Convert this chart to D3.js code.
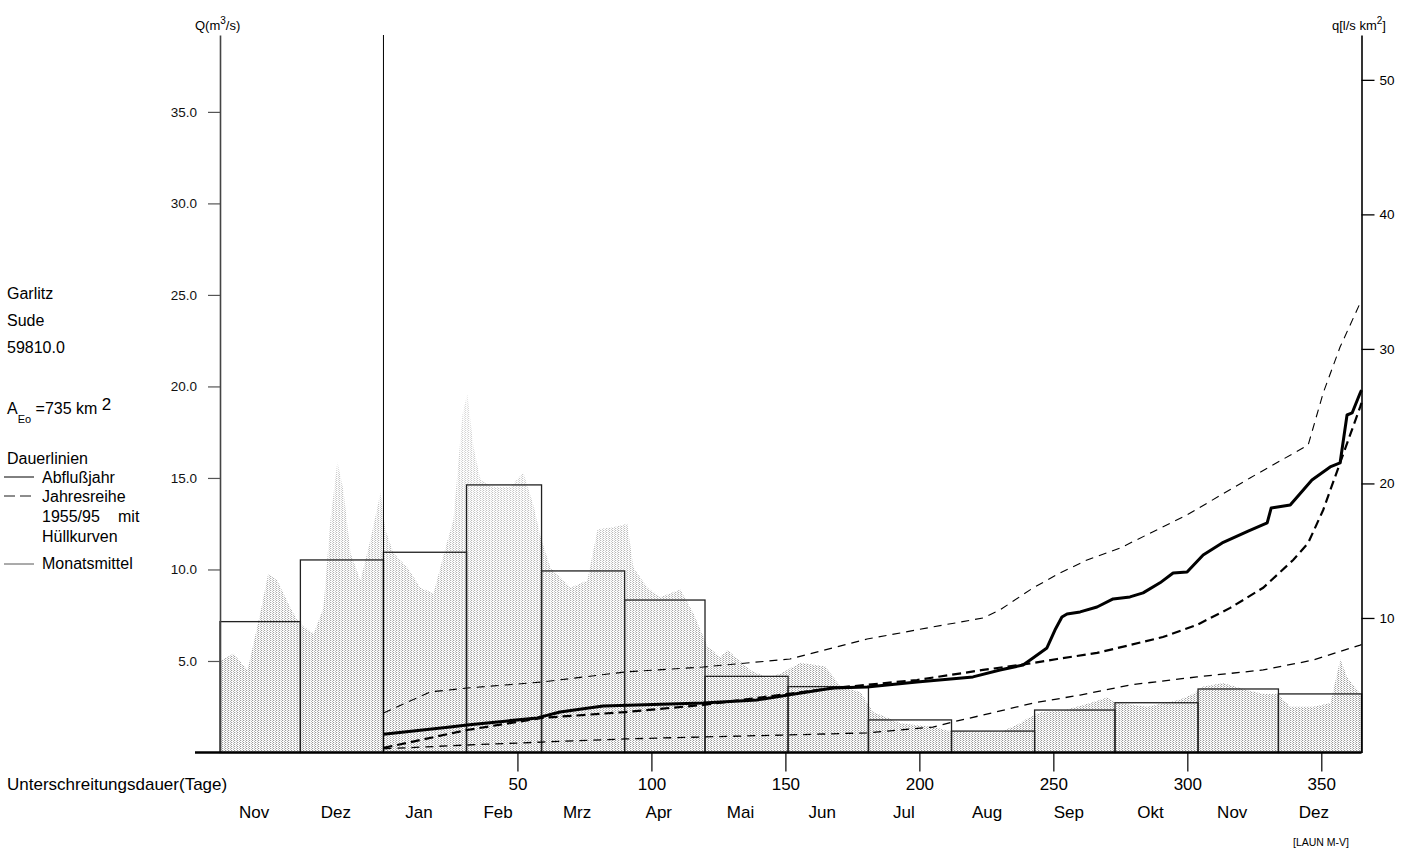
<!DOCTYPE html>
<html>
<head>
<meta charset="utf-8">
<script src="https://cdn.jsdelivr.net/npm/d3@7"></script>
<style>
  html, body { margin: 0; padding: 0; background: #fff; }
  svg { display: block; font-family: "Liberation Sans", Arial, sans-serif; }
</style>
</head>
<body>
<div id="chart"></div>
<script>
// Pegel Garlitz / Sude - Dauerlinien und Monatsmittel
const months = ["Nov", "Dez", "Jan", "Feb", "Mrz", "Apr", "Mai", "Jun", "Jul", "Aug", "Sep", "Okt", "Nov", "Dez"];
const monthDays = [30, 31, 31, 28, 31, 30, 31, 30, 31, 31, 30, 31, 30, 31];
const monthMean = [7.15, 10.52, 10.94, 14.62, 9.92, 8.33, 4.16, 3.6, 1.78, 1.17, 2.32, 2.72, 3.47, 3.2];

const qTicks = [5, 10, 15, 20, 25, 30, 35];
const qSpecTicks = [10, 20, 30, 40, 50];
const dayTicks = [50, 100, 150, 200, 250, 300, 350];

// Tageswerte (Ganglinie), Tag relativ zum 1. Jan
const hydroDay = [-61, -56, -50.7, -46, -43, -39.6, -34.7, -32, -30, -26, -22.4, -19.8, -17.2, -14.9, -12.3, -8.6, -4.9, -1.1,
  0.7, 3.7, 9, 13.8, 18.7, 23.9, 26.1, 29.5, 31.3, 33.6, 36.2, 41, 47.4, 52.2, 56, 58.6, 62.3, 69.8, 76.1, 79.9, 85.8,
  91, 93.3, 98.5, 103.4, 110.8, 115.7, 120.9, 125.7, 128.4, 136.9, 143.3, 148.1, 155.6, 164.9, 170.5, 178, 182.8,
  186.6, 192.9, 205.2, 210.4, 217.9, 230.2, 237.7, 239.6, 245.1, 253.7, 263.8, 270.1, 273.9, 285.1, 297.4, 302.2,
  306, 313.4, 322.4, 328.4, 333.6, 338.4, 347, 353.4, 357.1, 359.7, 364.6, 365];
const hydroQ = [5.0, 5.4, 4.5, 7.6, 9.8, 9.4, 7.9, 7.2, 6.9, 6.5, 7.9, 12.7, 15.9, 14.3, 10.9, 9.4, 11.6, 14.2,
  12.2, 10.9, 10.1, 9.0, 8.7, 11.6, 12.7, 18.5, 19.6, 16.7, 14.9, 14.5, 14.5, 15.3, 13.5, 11.8, 10.1, 9.0, 9.4, 12.2, 12.3,
  12.5, 10.1, 9.0, 8.5, 8.9, 7.6, 5.8, 5.2, 5.6, 4.5, 4.1, 4.3, 4.9, 4.7, 3.6, 3.3, 2.2,
  2.0, 1.6, 1.4, 1.2, 1.1, 1.1, 1.6, 1.8, 2.2, 2.3, 2.7, 3.0, 2.7, 2.5, 2.9, 3.2,
  3.6, 3.8, 3.4, 3.2, 3.2, 2.5, 2.5, 2.7, 5.1, 4.1, 3.2, 3.0];

// Dauerlinie Abflussjahr
const yearDay = [0, 24.9, 31.2, 57.4, 65.9, 82, 119.3, 139.4, 151, 167.8, 180.5, 199.1, 220, 230.1, 238.7, 242.4, 247.6,
  250.6, 253.2, 255.1, 260, 266.3, 272.3, 278.6, 283.5, 289.8, 294.7, 299.9, 305.9, 313, 322.7, 329.8, 331.3, 338.4,
  346.5, 353.3, 357, 359.6, 361.5, 364.5, 365];
const yearQ = [1.0, 1.39, 1.5, 1.89, 2.21, 2.54, 2.7, 2.87, 3.14, 3.52, 3.58, 3.85, 4.13, 4.51, 4.78, 5.16, 5.71,
  6.69, 7.4, 7.57, 7.68, 7.95, 8.39, 8.5, 8.72, 9.27, 9.81, 9.86, 10.79, 11.45, 12.1, 12.54, 13.36, 13.52,
  14.89, 15.6, 15.82, 18.44, 18.55, 19.64, 19.8];

// Jahresreihe 1955/95 (Mittel) mit Huellkurven
const meanDay = [0, 31.2, 59.2, 90.2, 119.3, 167.8, 199.1, 223.8, 242.4, 251.4, 266.3, 278.6, 290.9, 303.6, 316, 328.3,
  339.5, 345.1, 350.7, 357, 364.5, 365];
const meanQ = [0.25, 1.23, 1.89, 2.21, 2.6, 3.52, 3.96, 4.51, 4.89, 5.11, 5.44, 5.87, 6.31, 6.97, 7.9, 9.0,
  10.52, 11.45, 13.25, 15.82, 18.88, 19.1];
const lowDay = [0, 31.2, 59.2, 90.2, 119.3, 151, 180.5, 205, 212.5, 223.8, 242.4, 260, 278.6, 303.6, 328.3, 347, 364.5, 365];
const lowQ = [0.2, 0.41, 0.57, 0.74, 0.85, 0.96, 1.07, 1.39, 1.67, 2.05, 2.7, 3.14, 3.69, 4.13, 4.51, 5.05, 5.87, 5.9];
const highDay = [0, 17.4, 31.2, 59.2, 90.2, 119.3, 151.7, 180.5, 205, 223.8, 230.1, 242.4, 252.5, 262.6, 274.9, 299.9,
  323.4, 345.1, 350.7, 357, 364.5, 365];
const highQ = [2.16, 3.31, 3.52, 3.85, 4.4, 4.67, 5.11, 6.2, 6.86, 7.35, 7.79, 8.99, 9.81, 10.52, 11.17, 12.98,
  15.0, 16.8, 19.64, 22.15, 24.56, 24.7];

const areaKm2 = 735;

const width = 1407, height = 849;
const svg = d3.select("#chart").append("svg")
  .attr("width", width)
  .attr("height", height);

// Skalen
const x = d3.scaleLinear().domain([-61, 365]).range([220, 1361.5]);
const y = d3.scaleLinear().domain([0, 39.2]).range([752.5, 35]);
const yq = d3.scaleLinear().domain([0, 39.2 * 1000 / areaKm2]).range([752.5, 35]);

// Punktraster fuer die Ganglinie
const defs = svg.append("defs");
const pat = defs.append("pattern")
  .attr("id", "stipple")
  .attr("patternUnits", "userSpaceOnUse")
  .attr("width", 3).attr("height", 2);
pat.append("rect").attr("width", 3).attr("height", 2).attr("fill", "#fff");
pat.append("rect").attr("width", 1).attr("height", 1).attr("fill", "#9a9a9a");
pat.append("rect").attr("x", 2).attr("y", 1).attr("width", 1).attr("height", 1).attr("fill", "#b4b4b4");
pat.append("rect").attr("x", 1).attr("y", 0).attr("width", 1).attr("height", 1).attr("fill", "#e6e6e6");

const grad = defs.append("linearGradient")
  .attr("id", "fade")
  .attr("gradientUnits", "userSpaceOnUse")
  .attr("x1", 0).attr("x2", 0)
  .attr("y1", y(0)).attr("y2", y(20));
grad.append("stop").attr("offset", 0).attr("stop-color", "#fff");
grad.append("stop").attr("offset", 0.25).attr("stop-color", "#f4f4f4");
grad.append("stop").attr("offset", 1).attr("stop-color", "#555");
defs.append("mask")
  .attr("id", "fadeMask")
  .attr("maskUnits", "userSpaceOnUse")
  .attr("x", 0).attr("y", 0).attr("width", width).attr("height", height)
  .append("rect")
  .attr("width", width).attr("height", height)
  .attr("fill", "url(#fade)");

const hydro = hydroDay.map((d, i) => ({ day: d, q: hydroQ[i] }));
svg.append("path")
  .datum(hydro)
  .attr("fill", "url(#stipple)")
  .attr("mask", "url(#fadeMask)")
  .attr("d", d3.area().x(d => x(d.day)).y0(y(0)).y1(d => y(d.q)));

// Monatsmittel
let start = -61;
const bars = months.map((m, i) => {
  const b = { name: m, start: start, end: start + monthDays[i], q: monthMean[i] };
  start += monthDays[i];
  return b;
});

svg.append("g")
  .selectAll("rect")
  .data(bars)
  .join("rect")
  .attr("x", d => x(d.start))
  .attr("y", d => y(d.q))
  .attr("width", d => x(d.end) - x(d.start))
  .attr("height", d => y(0) - y(d.q))
  .attr("fill", "none")
  .attr("stroke", "#222")
  .attr("stroke-width", 1.3);

// Beginn der Dauerlinien
svg.append("line")
  .attr("x1", x(0)).attr("x2", x(0))
  .attr("y1", y.range()[1]).attr("y2", y(0))
  .attr("stroke", "#000").attr("stroke-width", 1);

// Dauerlinien
const line = d3.line().x(d => x(d[0])).y(d => y(d[1]));
const zip = (a, b) => a.map((v, i) => [v, b[i]]);

svg.append("path")
  .datum(zip(highDay, highQ))
  .attr("fill", "none").attr("stroke", "#000")
  .attr("stroke-width", 1.1).attr("stroke-dasharray", "8,6")
  .attr("d", line);
svg.append("path")
  .datum(zip(lowDay, lowQ))
  .attr("fill", "none").attr("stroke", "#000")
  .attr("stroke-width", 1.3).attr("stroke-dasharray", "8,6")
  .attr("d", line);
svg.append("path")
  .datum(zip(meanDay, meanQ))
  .attr("fill", "none").attr("stroke", "#000")
  .attr("stroke-width", 2.2).attr("stroke-dasharray", "9,5")
  .attr("d", line);
svg.append("path")
  .datum(zip(yearDay, yearQ))
  .attr("fill", "none").attr("stroke", "#000")
  .attr("stroke-width", 3).attr("stroke-linejoin", "round")
  .attr("d", line);

// Achsen
const leftAxis = svg.append("g")
  .attr("transform", `translate(${x(-61)},0)`)
  .call(d3.axisLeft(y).tickValues(qTicks).tickFormat(d3.format(".1f"))
    .tickSize(12).tickSizeOuter(0).tickPadding(11));
leftAxis.select(".domain").attr("stroke", "#444").attr("stroke-width", 1.6);
leftAxis.selectAll(".tick line").attr("stroke", "#555").attr("stroke-width", 1.2);
leftAxis.selectAll("text").attr("font-size", 13.5).attr("fill", "#111")
  .attr("font-family", "Liberation Sans, Arial, sans-serif");

const rightAxis = svg.append("g")
  .attr("transform", `translate(${x(365)},0)`)
  .call(d3.axisRight(yq).tickValues(qSpecTicks).tickSize(13).tickSizeOuter(0).tickPadding(5));
rightAxis.select(".domain").attr("stroke", "#000").attr("stroke-width", 1.6);
rightAxis.selectAll(".tick line").attr("stroke", "#000").attr("stroke-width", 1.3);
rightAxis.selectAll("text").attr("font-size", 13.5).attr("fill", "#000")
  .attr("font-family", "Liberation Sans, Arial, sans-serif");

const bottomAxis = svg.append("g")
  .attr("transform", `translate(0,${y(0)})`)
  .call(d3.axisBottom(x).tickValues(dayTicks).tickSize(19).tickPadding(6));
bottomAxis.select(".domain").remove();
bottomAxis.selectAll(".tick line").attr("stroke", "#000").attr("stroke-width", 1.2);
bottomAxis.selectAll("text").attr("font-size", 17).attr("fill", "#000")
  .attr("font-family", "Liberation Sans, Arial, sans-serif");

// Grundlinie
svg.append("line")
  .attr("x1", x(-61) - 25).attr("x2", x(365))
  .attr("y1", y(0)).attr("y2", y(0))
  .attr("stroke", "#000").attr("stroke-width", 2.4);

// Monatsnamen
svg.append("g")
  .selectAll("text")
  .data(bars)
  .join("text")
  .attr("x", d => (x(d.start) + x(d.end)) / 2 - 6)
  .attr("y", 818)
  .attr("text-anchor", "middle")
  .attr("font-size", 17)
  .text(d => d.name);

// Beschriftungen
const t1 = svg.append("text").attr("x", 195).attr("y", 30).attr("font-size", 13);
t1.append("tspan").text("Q(m");
t1.append("tspan").attr("dy", -6).attr("font-size", 10).text("3");
t1.append("tspan").attr("dy", 6).text("/s)");

const t2 = svg.append("text").attr("x", 1332).attr("y", 30).attr("font-size", 13);
t2.append("tspan").text("q[l/s km");
t2.append("tspan").attr("dy", -6).attr("font-size", 10).text("2");
t2.append("tspan").attr("dy", 6).text("]");

svg.append("text").attr("x", 7).attr("y", 790).attr("font-size", 17).text("Unterschreitungsdauer(Tage)");
svg.append("text").attr("x", 1293).attr("y", 846).attr("font-size", 10.5).text("[LAUN M-V]");

const info = [["Garlitz", 299], ["Sude", 326], ["59810.0", 353]];
svg.append("g").selectAll("text")
  .data(info)
  .join("text")
  .attr("x", 7).attr("y", d => d[1])
  .attr("font-size", 16)
  .text(d => d[0]);

const ae = svg.append("text").attr("x", 7).attr("y", 414).attr("font-size", 16);
ae.append("tspan").text("A");
ae.append("tspan").attr("dy", 9).attr("font-size", 11).text("Eo");
ae.append("tspan").attr("dy", -9).text(" =735 km ");
ae.append("tspan").attr("dy", -4).attr("font-size", 17).text("2");

// Legende
const legend = svg.append("g").attr("font-size", 16);
legend.append("text").attr("x", 7).attr("y", 464).text("Dauerlinien");
legend.append("text").attr("x", 42).attr("y", 483).text("Abflußjahr");
legend.append("text").attr("x", 42).attr("y", 502).text("Jahresreihe");
legend.append("text").attr("x", 42).attr("y", 522).text("1955/95");
legend.append("text").attr("x", 118).attr("y", 522).text("mit");
legend.append("text").attr("x", 42).attr("y", 542).text("Hüllkurven");
legend.append("text").attr("x", 42).attr("y", 569).text("Monatsmittel");
legend.append("line").attr("x1", 4).attr("x2", 34).attr("y1", 477).attr("y2", 477)
  .attr("stroke", "#000").attr("stroke-width", 1);
legend.append("line").attr("x1", 4).attr("x2", 34).attr("y1", 496).attr("y2", 496)
  .attr("stroke", "#000").attr("stroke-width", 0.9).attr("stroke-dasharray", "11,5");
legend.append("line").attr("x1", 4).attr("x2", 34).attr("y1", 564).attr("y2", 564)
  .attr("stroke", "#444").attr("stroke-width", 0.9);
</script>
</body>
</html>
